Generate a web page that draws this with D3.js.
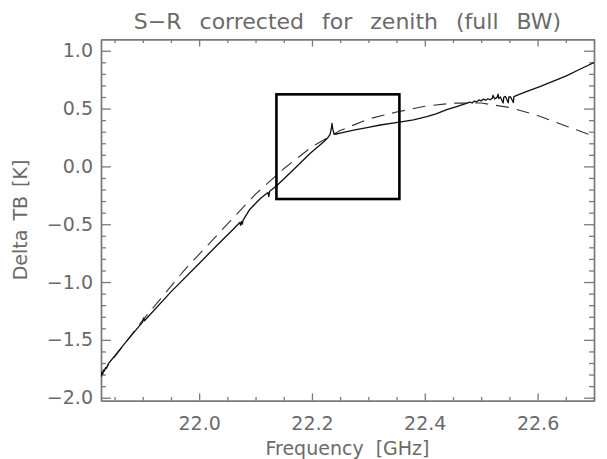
<!DOCTYPE html>
<html><head><meta charset="utf-8">
<script src="https://cdn.jsdelivr.net/npm/d3@7"></script>
<style>
html,body{margin:0;padding:0;background:#fff;}
svg{display:block;}
text{font-family:"DejaVu Sans",sans-serif;fill:#6a6a6a;}
</style></head>
<body><div id="chart"></div>
<script>
// ---- data ----
const title = "S\u2212R corrected for zenith (full BW)";
const xLabel = "Frequency [GHz]";
const yLabel = "Delta TB [K]";
const xDomain = [21.826, 22.70];
const yDomain = [-2.026, 1.099];
const xMajorTicks = [22.0, 22.2, 22.4, 22.6];
const xTickLabels = ["22.0", "22.2", "22.4", "22.6"];
const xMinorTicks = [21.85,21.90,21.95,22.05,22.10,22.15,22.25,22.30,22.35,22.45,22.50,22.55,22.65,22.70];
const yMajorTicks = [-2.0,-1.5,-1.0,-0.5,0.0,0.5,1.0];
const yTickLabels = ["\u22122.0","\u22121.5","\u22121.0","\u22120.5","0.0","0.5","1.0"];
const yMinorTicks = [-1.9,-1.8,-1.7,-1.6,-1.4,-1.3,-1.2,-1.1,-0.9,-0.8,-0.7,-0.6,-0.4,-0.3,-0.2,-0.1,0.1,0.2,0.3,0.4,0.6,0.7,0.8,0.9];

// measured S-R spectrum (solid)
const measFreq = [21.826,21.8275,21.829,21.8305,21.832,21.834,21.836,21.838,21.840,21.850,21.870,21.900,21.9015,21.903,21.950,22.000,22.030,22.060,22.072,22.0735,22.075,22.0765,22.078,22.090,22.109,22.122,22.1235,22.125,22.137,22.168,22.197,22.221,22.228,22.232,22.2345,22.2355,22.237,22.239,22.2415,22.250,22.274,22.300,22.321,22.355,22.380,22.4035,22.420,22.439,22.455,22.474,22.480,22.484,22.488,22.492,22.496,22.500,22.504,22.508,22.512,22.516,22.520,22.521,22.524,22.528,22.530,22.531,22.534,22.539,22.540,22.543,22.548,22.549,22.552,22.557,22.558,22.562,22.580,22.604,22.627,22.650,22.675,22.700];
const measTB   = [-1.82,-1.78,-1.80,-1.76,-1.77,-1.74,-1.745,-1.715,-1.70,-1.64,-1.52,-1.345,-1.31,-1.335,-1.085,-0.84,-0.69,-0.545,-0.485,-0.51,-0.475,-0.50,-0.465,-0.37,-0.276,-0.226,-0.262,-0.215,-0.170,-0.025,0.113,0.213,0.248,0.275,0.33,0.372,0.32,0.285,0.278,0.288,0.314,0.338,0.358,0.383,0.403,0.43,0.455,0.49,0.515,0.545,0.556,0.548,0.565,0.558,0.575,0.566,0.582,0.572,0.585,0.576,0.592,0.615,0.583,0.597,0.625,0.588,0.60,0.548,0.598,0.605,0.55,0.60,0.602,0.552,0.603,0.612,0.646,0.689,0.735,0.78,0.84,0.898];

// fitted model (dashed)
const fitFreq = [21.826,21.90,21.975,22.05,22.10,22.15,22.20,22.25,22.30,22.35,22.40,22.45,22.50,22.55,22.60,22.65,22.70];
const fitTB   = [-1.80,-1.33,-0.89,-0.50,-0.24,-0.02,0.17,0.31,0.41,0.47,0.52,0.547,0.548,0.51,0.44,0.35,0.26];

// zoom box
const boxFreq = [22.137, 22.355];
const boxTB = [-0.282, 0.623];

// ---- drawing ----
const W = 607, H = 459;
const plot = {left:101, right:594, top:39.3, bottom:400.7};
const svg = d3.select("#chart").append("svg").attr("width", W).attr("height", H);
const x = d3.scaleLinear().domain(xDomain).range([plot.left, plot.right]);
const y = d3.scaleLinear().domain(yDomain).range([plot.bottom, plot.top]);
const pw = plot.right - plot.left, ph = plot.bottom - plot.top;
const xt = 0.02 * ph, yt = 0.02 * pw;
const axisColor = "#7a7a7a";

function styleAxis(g){
  g.select(".domain").attr("stroke", axisColor).attr("stroke-width", 1.4);
  g.selectAll(".tick line").attr("stroke", axisColor).attr("stroke-width", 1.3);
}
// bottom
svg.append("g").attr("transform",`translate(0,${plot.bottom})`)
  .call(d3.axisBottom(x).tickValues(xMinorTicks).tickSize(-xt/2).tickSizeOuter(0).tickFormat("")).call(styleAxis);
svg.append("g").attr("transform",`translate(0,${plot.bottom})`)
  .call(d3.axisBottom(x).tickValues(xMajorTicks).tickSize(-xt).tickSizeOuter(0).tickPadding(16)
    .tickFormat((d,i)=>xTickLabels[i])).call(styleAxis)
  .call(g=>g.selectAll("text").attr("font-size",19).attr("fill","#6a6a6a").attr("font-family","DejaVu Sans"));
// top
svg.append("g").attr("transform",`translate(0,${plot.top})`)
  .call(d3.axisTop(x).tickValues(xMinorTicks).tickSize(-xt/2).tickSizeOuter(0).tickFormat("")).call(styleAxis);
svg.append("g").attr("transform",`translate(0,${plot.top})`)
  .call(d3.axisTop(x).tickValues(xMajorTicks).tickSize(-xt).tickSizeOuter(0).tickFormat("")).call(styleAxis);
// left
svg.append("g").attr("transform",`translate(${plot.left},0)`)
  .call(d3.axisLeft(y).tickValues(yMinorTicks).tickSize(-yt/2).tickSizeOuter(0).tickFormat("")).call(styleAxis);
svg.append("g").attr("transform",`translate(${plot.left},0)`)
  .call(d3.axisLeft(y).tickValues(yMajorTicks).tickSize(-yt).tickSizeOuter(0).tickPadding(8)
    .tickFormat((d,i)=>yTickLabels[i])).call(styleAxis)
  .call(g=>g.selectAll("text").attr("font-size",19).attr("fill","#6a6a6a").attr("font-family","DejaVu Sans"));
// right
svg.append("g").attr("transform",`translate(${plot.right},0)`)
  .call(d3.axisRight(y).tickValues(yMinorTicks).tickSize(-yt/2).tickSizeOuter(0).tickFormat("")).call(styleAxis);
svg.append("g").attr("transform",`translate(${plot.right},0)`)
  .call(d3.axisRight(y).tickValues(yMajorTicks).tickSize(-yt).tickSizeOuter(0).tickFormat("")).call(styleAxis);

// clip
svg.append("clipPath").attr("id","clip").append("rect")
  .attr("x",plot.left).attr("y",plot.top).attr("width",pw).attr("height",ph);

const line = d3.line().x(d=>x(d[0])).y(d=>y(d[1]));
svg.append("path").datum(fitFreq.map((f,i)=>[f,fitTB[i]]))
  .attr("d", line).attr("fill","none").attr("stroke","#333").attr("stroke-width",1.1)
  .attr("stroke-dasharray","13,8").attr("clip-path","url(#clip)");
svg.append("path").datum(measFreq.map((f,i)=>[f,measTB[i]]))
  .attr("d", line).attr("fill","none").attr("stroke","#111").attr("stroke-width",1.3)
  .attr("stroke-linejoin","round").attr("clip-path","url(#clip)");

// box
svg.append("rect")
  .attr("x", x(boxFreq[0])).attr("y", y(boxTB[1]))
  .attr("width", x(boxFreq[1]) - x(boxFreq[0]))
  .attr("height", y(boxTB[0]) - y(boxTB[1]))
  .attr("fill","none").attr("stroke","#000").attr("stroke-width",2.6);

// texts
svg.append("text").attr("x",(plot.left+plot.right)/2).attr("y",28.5)
  .attr("text-anchor","middle").attr("font-size",22).style("word-spacing","11px").text(title);
svg.append("text").attr("x",(plot.left+plot.right)/2).attr("y",455)
  .attr("text-anchor","middle").attr("font-size",19).style("word-spacing","6px").text(xLabel);
svg.append("text").attr("transform",`translate(27,${(plot.top+plot.bottom)/2}) rotate(-90)`)
  .attr("text-anchor","middle").attr("font-size",19).style("word-spacing","3px").text(yLabel);
</script></body></html>
